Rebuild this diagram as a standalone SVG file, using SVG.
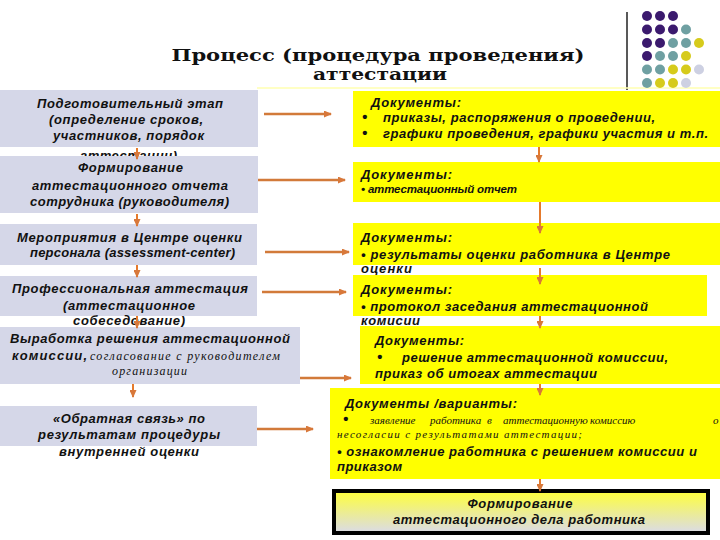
<svg xmlns="http://www.w3.org/2000/svg" width="720" height="540" viewBox="0 0 720 540">
<style>
.lb{fill:#d5d7e8}
.yb{fill:#ffff00}
.t{font-family:"Liberation Sans",Arial,sans-serif;font-weight:bold;font-style:italic;font-size:13px;fill:#111}
.s{font-family:"Liberation Serif","Times New Roman",serif;font-style:italic;font-size:12px;fill:#111}
.s11{font-size:11px}
.b{font-size:15px}
.c{text-anchor:middle}
.title{font-family:"DejaVu Serif","Liberation Serif",serif;font-weight:bold;font-size:17px;fill:#111;text-anchor:middle}
.ar{stroke:#d27a3a;stroke-width:2.5;fill:none;marker-end:url(#ah)}
.av{stroke:#e57a2c;stroke-width:2;fill:none;marker-end:url(#ah)}
</style>
<defs>
<marker id="ah" markerUnits="userSpaceOnUse" markerWidth="8" markerHeight="7" refX="7" refY="3.5" orient="auto">
<path d="M0,0 L8,3.5 L0,7 z" fill="#d8783a"/>
</marker>
<linearGradient id="fg" x1="0" y1="0" x2="0" y2="1">
<stop offset="0" stop-color="#ffff3a"/>
<stop offset="1" stop-color="#dadbe8"/>
</linearGradient>
</defs>
<rect width="720" height="540" fill="#fff"/>

<g id="title">
<text class="title" x="378" y="61" textLength="413" lengthAdjust="spacingAndGlyphs">Процесс (процедура проведения)</text>
<text class="title" x="380" y="80" textLength="134" lengthAdjust="spacingAndGlyphs">аттестации</text>
</g>

<g id="decor">
<line x1="627" y1="12" x2="627" y2="90" stroke="#222" stroke-width="1.5"/>
<line x1="257" y1="88" x2="720" y2="88" stroke="#ffffb0" stroke-width="1.5"/>
<g fill="#3b1a6e">
<circle cx="647" cy="16" r="5"/><circle cx="660" cy="16" r="5"/><circle cx="673" cy="16" r="5"/>
<circle cx="647" cy="29.5" r="5"/><circle cx="660" cy="29.5" r="5"/><circle cx="673" cy="29.5" r="5"/>
<circle cx="647" cy="43" r="5"/><circle cx="660" cy="43" r="5"/>
<circle cx="647" cy="56" r="5"/>
</g>
<g fill="#6fa0a2">
<circle cx="686" cy="29.5" r="5"/>
<circle cx="673" cy="43" r="5"/><circle cx="686" cy="43" r="5"/>
<circle cx="660" cy="56" r="5"/><circle cx="673" cy="56" r="5"/>
<circle cx="647" cy="69.5" r="5"/><circle cx="660" cy="69.5" r="5"/>
<circle cx="647" cy="83" r="5"/>
</g>
<g fill="#d6cb1c">
<circle cx="699" cy="43" r="5"/>
<circle cx="686" cy="56" r="5"/>
<circle cx="673" cy="69.5" r="5"/><circle cx="686" cy="69.5" r="5"/>
<circle cx="660" cy="83" r="5"/><circle cx="673" cy="83" r="5"/>
</g>
<g fill="#cdd0e2">
<circle cx="699" cy="69.5" r="5"/>
<circle cx="686" cy="83" r="5"/>
</g>
</g>

<g id="box1">
<rect class="lb" x="0" y="90" width="258" height="57"/>
<text class="t c" x="130" y="108" textLength="186" lengthAdjust="spacing">Подготовительный этап</text>
<text class="t c" x="126" y="124" textLength="154" lengthAdjust="spacing">(определение сроков,</text>
<text class="t c" x="128.5" y="140" textLength="151" lengthAdjust="spacing">участников, порядок</text>
<text class="t c" x="128.5" y="160" textLength="97" lengthAdjust="spacing">аттестации)</text>
</g>

<g id="box2">
<rect class="lb" x="0" y="156" width="258" height="57"/>
<text class="t c" x="130.5" y="172" textLength="105" lengthAdjust="spacing">Формирование</text>
<text class="t c" x="130" y="190" textLength="196" lengthAdjust="spacing">аттестационного отчета</text>
<text class="t c" x="129.5" y="206" textLength="199" lengthAdjust="spacing">сотрудника (руководителя)</text>
</g>

<g id="box3">
<rect class="lb" x="0" y="224" width="257" height="41"/>
<text class="t c" x="129.5" y="242" textLength="225" lengthAdjust="spacing">Мероприятия в Центре оценки</text>
<text class="t c" x="132.5" y="257" textLength="205" lengthAdjust="spacing">персонала (assessment-center)</text>
</g>

<g id="box4">
<rect class="lb" x="0" y="276" width="257" height="40"/>
<text class="t c" x="130" y="293" textLength="236" lengthAdjust="spacing">Профессиональная аттестация</text>
<text class="t c" x="129" y="310" textLength="132" lengthAdjust="spacing">(аттестационное</text>
<text class="t c" x="129" y="325" textLength="112" lengthAdjust="spacing">собеседование)</text>
</g>

<g id="box5">
<rect class="lb" x="0" y="327" width="300" height="57"/>
<text class="t c" x="150" y="343" textLength="280" lengthAdjust="spacing">Выработка решения аттестационной</text>
<text class="t" x="12" y="360" textLength="75" lengthAdjust="spacing">комиссии,</text>
<text class="s" x="90" y="360" textLength="190" lengthAdjust="spacing">согласование с руководителем</text>
<text class="s" x="112" y="375" textLength="75" lengthAdjust="spacing">организации</text>
</g>

<g id="box6">
<rect class="lb" x="0" y="406" width="257" height="40"/>
<text class="t c" x="129" y="423" textLength="152" lengthAdjust="spacing">«Обратная связь» по</text>
<text class="t c" x="129" y="439" textLength="182" lengthAdjust="spacing">результатам процедуры</text>
<text class="t c" x="129" y="456" textLength="140" lengthAdjust="spacing">внутренней оценки</text>
</g>

<g id="doc1">
<rect class="yb" x="353" y="91" width="367" height="56"/>
<text class="t" x="371" y="107" textLength="90" lengthAdjust="spacing">Документы:</text>
<text class="t b" x="362" y="122">•</text>
<text class="t" x="383" y="122" textLength="272" lengthAdjust="spacing">приказы, распоряжения о проведении,</text>
<text class="t b" x="362" y="138">•</text>
<text class="t" x="383" y="138" textLength="325" lengthAdjust="spacing">графики проведения, графики участия и т.п.</text>
</g>

<g id="doc2">
<rect class="yb" x="353" y="162" width="367" height="40"/>
<text class="t" x="361" y="179" textLength="91" lengthAdjust="spacing">Документы:</text>
<text class="t" x="361" y="193" style="font-size:11.5px" textLength="156" lengthAdjust="spacing">• аттестационный отчет</text>
</g>

<g id="doc3">
<rect class="yb" x="353" y="223" width="367" height="42"/>
<text class="t" x="361" y="242" textLength="91" lengthAdjust="spacing">Документы:</text>
<text class="t" x="361" y="259" textLength="309" lengthAdjust="spacing">• результаты оценки работника в Центре</text>
<text class="t" x="361" y="273" textLength="51" lengthAdjust="spacing">оценки</text>
</g>

<g id="doc4">
<rect class="yb" x="353" y="275" width="354" height="41"/>
<text class="t" x="361" y="294" textLength="91" lengthAdjust="spacing">Документы:</text>
<text class="t" x="361" y="311" textLength="287" lengthAdjust="spacing">• протокол заседания аттестационной</text>
<text class="t" x="361" y="325" textLength="59" lengthAdjust="spacing">комисии</text>
</g>

<g id="doc5">
<rect class="yb" x="360" y="326" width="360" height="58"/>
<text class="t" x="375" y="345" textLength="89" lengthAdjust="spacing">Документы:</text>
<text class="t b" x="377" y="362">•</text>
<text class="t" x="402" y="362" textLength="266" lengthAdjust="spacing">решение аттестационной комиссии,</text>
<text class="t" x="375" y="378" textLength="222" lengthAdjust="spacing">приказ об итогах аттестации</text>
</g>

<g id="doc6">
<rect class="yb" x="330" y="388" width="390" height="91"/>
<text class="t" x="345" y="408" textLength="172" lengthAdjust="spacing">Документы /варианты:</text>
<text class="t b" x="343" y="424">•</text>
<text class="s s11" y="424"><tspan x="370">заявление</tspan><tspan x="430">работника</tspan><tspan x="487">в</tspan><tspan x="503">аттестационную</tspan><tspan x="590">комиссию</tspan><tspan x="713">о</tspan></text>
<text class="s s11" x="337" y="438" textLength="245" lengthAdjust="spacing">несогласии с результатами аттестации;</text>
<text class="t" x="337" y="456" textLength="360" lengthAdjust="spacing">• ознакомление работника с решением комиссии и</text>
<text class="t" x="337" y="471" textLength="65" lengthAdjust="spacing">приказом</text>
</g>

<g id="final">
<rect x="334" y="491" width="374" height="42" fill="url(#fg)" stroke="#000" stroke-width="4"/>
<text class="t c" x="520" y="508" textLength="105" lengthAdjust="spacing">Формирование</text>
<text class="t c" x="519" y="524" textLength="252" lengthAdjust="spacing">аттестационного дела работника</text>
</g>

<g id="connectors">
<line class="ar" x1="264" y1="114" x2="331" y2="114"/>
<line class="ar" x1="258" y1="180" x2="345" y2="180"/>
<line class="ar" x1="265" y1="252" x2="349" y2="252"/>
<line class="ar" x1="262" y1="292" x2="346" y2="292"/>
<line class="ar" x1="300" y1="378" x2="351" y2="378"/>
<line class="ar" x1="257" y1="429" x2="313" y2="429"/>
<line class="av" x1="137" y1="148" x2="137" y2="159"/>
<line class="av" x1="137" y1="214" x2="137" y2="226"/>
<line class="av" x1="137" y1="265" x2="137" y2="277"/>
<line class="av" x1="137" y1="316" x2="137" y2="328"/>
<line class="av" x1="133" y1="384" x2="133" y2="397"/>
<line class="av" x1="539" y1="147" x2="539" y2="162"/>
<line class="av" x1="540" y1="202" x2="540" y2="233"/>
<line class="av" x1="540" y1="268" x2="540" y2="284"/>
<line class="av" x1="540" y1="316" x2="540" y2="328"/>
<line class="av" x1="540" y1="384" x2="540" y2="395"/>
<line class="av" x1="540" y1="479" x2="540" y2="491"/>
</g>
</svg>
